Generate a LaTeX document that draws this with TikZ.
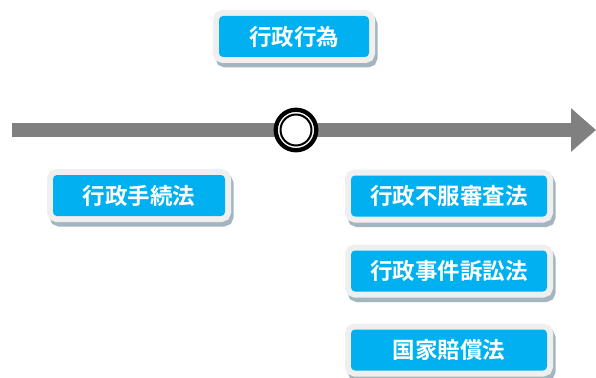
\documentclass[tikz,border=0pt]{standalone}
\usepackage{fontspec}
\newfontfamily\jp{Noto Sans CJK JP}[BoldFont={Noto Sans CJK JP Bold}]
\usetikzlibrary{arrows.meta}
\definecolor{boxblue}{HTML}{00B0F0}
\definecolor{framegray}{HTML}{EFEFEF}
\definecolor{shadowcol}{HTML}{A3B6BF}
\definecolor{axisgray}{HTML}{808080}
\tikzset{
  lawbox/.style={rectangle, rounded corners=4pt, fill=boxblue, text=white,
    font=\jp\bfseries\fontsize{22.5}{24}\selectfont, inner sep=0pt,
    minimum height=41pt,
    preaction={draw=shadowcol, line width=12pt, transform canvas={shift={(2.5pt,-4.5pt)}}},
    preaction={draw=framegray, line width=12pt}},
  axis/.style={draw=axisgray, line width=14pt, -{Triangle[length=25pt,width=42pt]}},
  ringout/.style={circle, draw=black, fill=white, line width=4.3pt, minimum size=40.5pt, inner sep=0pt},
  ringin/.style={circle, draw=black, line width=2pt, minimum size=31pt, inner sep=0pt}
}
\begin{document}
\begin{tikzpicture}[x=1pt,y=-1pt]
\useasboundingbox (0,0) rectangle (596,377);
\coordinate (start) at (12,130);
\coordinate (end) at (596,130);
\draw[axis] (start) -- (end);
\node[ringout] (point) at (296,130) {};
\node[ringin] (pointin) at (296,130) {};
\node[lawbox, minimum width=150pt] (act) at (294,36.5) {行政行為};
\node[lawbox, minimum width=172pt] (proc) at (139,195.5) {行政手続法};
\node[lawbox, minimum width=196pt] (review) at (449,196) {行政不服審査法};
\node[lawbox, minimum width=196pt] (litig) at (449,271) {行政事件訴訟法};
\node[lawbox, minimum width=196pt] (comp) at (449,350) {国家賠償法};
\end{tikzpicture}
\end{document}
